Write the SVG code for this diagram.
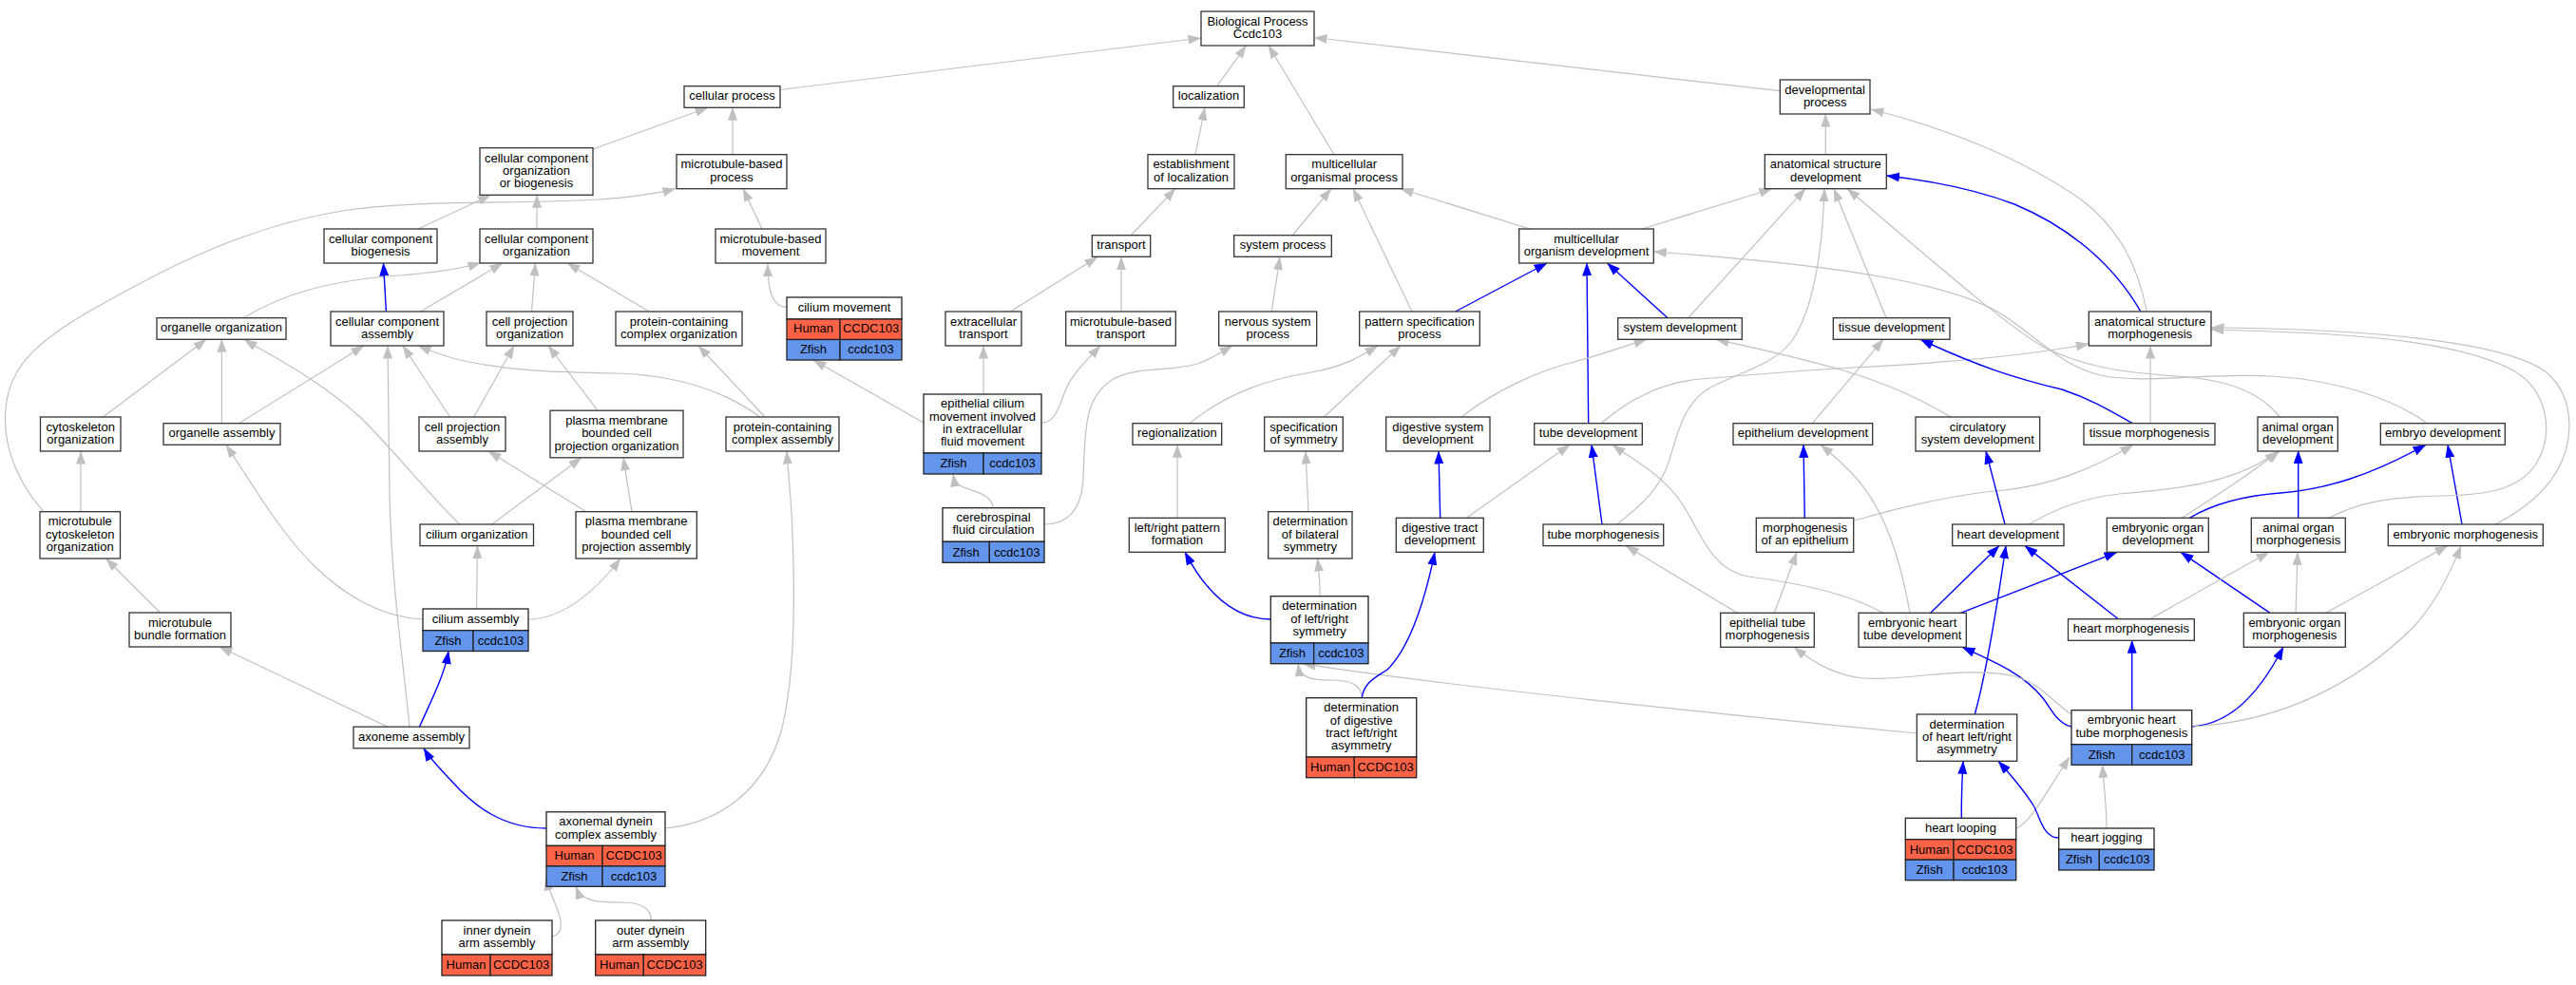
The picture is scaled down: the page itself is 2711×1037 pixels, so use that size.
<svg xmlns="http://www.w3.org/2000/svg" width="2711" height="1037" viewBox="0 0 2711 1037">
<style>
.n rect{fill:#fff;stroke:#333;stroke-width:1.3}
.t rect{stroke:#222;stroke-width:1.3}
.t .w{fill:#fff}
.t .h{fill:#ff6347}
.t .z{fill:#6495ed}
text{font-family:"Liberation Sans",Arial,Helvetica,sans-serif;font-size:13px;text-anchor:middle;fill:#000}
.e{fill:none;stroke:#c0c0c0;stroke-width:1.2;marker-end:url(#ag)}
.b{fill:none;stroke:#0000ff;stroke-width:1.4;marker-end:url(#ab)}
</style>
<defs>
<marker id="ag" viewBox="0 0 14 10" refX="13.5" refY="5" markerWidth="14" markerHeight="10" markerUnits="userSpaceOnUse" orient="auto"><path d="M0,0L14,5L0,10z" fill="#c0c0c0"/></marker>
<marker id="ab" viewBox="0 0 14 10" refX="13.5" refY="5" markerWidth="14" markerHeight="10" markerUnits="userSpaceOnUse" orient="auto"><path d="M0,0L14,5L0,10z" fill="#0000ff"/></marker>
</defs>
<rect x="0" y="0" width="2711" height="1037" fill="#fff"/>
<g id="edges">
<path class="e" d="M821,94.5 L1264,40"/>
<path class="e" d="M1280.7,90.7 L1311.5,48"/>
<path class="e" d="M1404,162.7 L1335,48"/>
<path class="e" d="M1873,95.7 L1383,39.5"/>
<path class="e" d="M622,157.7 L745,113.3"/>
<path class="e" d="M771,162.7 L771,113.3"/>
<path class="e" d="M440,241 L516.5,205.3"/>
<path class="e" d="M565,241 L565,205.3"/>
<path class="e" d="M1258,162.7 L1268,113.3"/>
<path class="e" d="M1190,248 L1237,198.7"/>
<path class="e" d="M1360,248 L1401,198.7"/>
<path class="e" d="M1486,328 L1424,198.7"/>
<path class="e" d="M1610,241 L1474,198.7"/>
<path class="e" d="M1728.3,241 L1865,198.7"/>
<path class="e" d="M1921.3,162.7 L1921.3,120"/>
<path class="e" d="M2259.3,327.7 C2250,280 2230,240 2190,210 C2130,168 2050,135 1969,115"/>
<path class="e" d="M802,241 L782,198.7"/>
<path class="e" d="M46,538.7 C20,510 2,470 6,430 C10,385 40,360 90,330 C160,290 250,240 360,222 C470,205 620,222 711,198.7"/>
<path class="e" d="M828,323.5 C812,323 808,305 808,277.5"/>
<path class="e" d="M256,334.7 C300,308 350,295 420,290 C460,287 485,283 506,276.5"/>
<path class="e" d="M442.4,328 L529,277"/>
<path class="e" d="M559.5,328 L563.5,277"/>
<path class="e" d="M683.3,328 L597,277"/>
<path class="b" d="M406.4,328 L403.5,277"/>
<path class="e" d="M1063.3,328 L1155,270.7"/>
<path class="e" d="M1180,328 L1180,270.7"/>
<path class="e" d="M1035,415 L1035,364"/>
<path class="e" d="M1096.5,445 C1112,445 1115,425 1123,407 C1130,392 1145,378 1158,364"/>
<path class="e" d="M972,445 L856,379"/>
<path class="e" d="M1338.3,328 L1347,270.7"/>
<path class="e" d="M1099,552 C1125,552 1138,535 1140,505 C1142,455 1140,420 1170,400 C1195,385 1230,392 1260,383 C1275,378 1285,371 1297,364"/>
<path class="e" d="M1045,534.7 C1044,520 1025,518 1012,512 C1006,509 1004,505 1003,499"/>
<path class="b" d="M1755,334.7 L1691.5,277"/>
<path class="e" d="M1776.7,334.7 L1900,198.7"/>
<path class="e" d="M1985,334.7 L1930,198.7"/>
<path class="b" d="M2252.7,327.7 C2225,280 2180,240 2120,215 C2075,198 2030,190 1985.5,185"/>
<path class="b" d="M1671.7,445.7 L1670,277"/>
<path class="b" d="M1531.7,328 L1628,277"/>
<path class="e" d="M1252,445.7 C1290,415 1330,400 1380,392 C1415,386 1432,375 1450,364"/>
<path class="e" d="M1393.3,439 L1474,364"/>
<path class="e" d="M108.5,439 L217,357.3"/>
<path class="e" d="M233.4,445.7 L233.4,357.3"/>
<path class="e" d="M484,552 C455,525 420,480 380,440 C330,395 285,375 257,357.3"/>
<path class="e" d="M251.5,445.7 L383,364"/>
<path class="e" d="M431,765.2 C425,700 412,620 410,520 C409,450 408,400 408,364"/>
<path class="e" d="M473.6,439 L424,364"/>
<path class="e" d="M800,439 C760,410 710,395 650,393 C580,392 530,390 480,378 C462,373 452,369 440,364"/>
<path class="e" d="M498.8,439 L541,364"/>
<path class="e" d="M628.9,432.2 L577,364"/>
<path class="e" d="M805,439 L735,364"/>
<path class="e" d="M700,872 C760,866 805,830 822,770 C838,710 837,620 833,540 C831,510 829,490 828,475"/>
<path class="e" d="M617,538.7 L514,475"/>
<path class="e" d="M665,538.7 L656,481.8"/>
<path class="e" d="M517.7,552 L612,481.8"/>
<path class="e" d="M85,538.7 L85,475"/>
<path class="e" d="M501.5,641 L502.5,574.6"/>
<path class="e" d="M445,652 C400,650 360,625 330,595 C295,560 272,520 238,468.3"/>
<path class="e" d="M556,652 C590,652 625,625 653,588"/>
<path class="e" d="M168.5,645 L111.5,588"/>
<path class="e" d="M408,765.2 L231,681"/>
<path class="b" d="M441.5,765.2 C455,735 468,710 472,685.5"/>
<path class="b" d="M575,872 C530,872 500,850 475,822 C462,808 452,798 446,787.8"/>
<path class="e" d="M581,986 C590,984 592,975 589,965 C585,950 578,940 574.5,924"/>
<path class="e" d="M685,969.3 C686,957 675,950 655,950 C630,950 612,950 606,933.3"/>
<path class="e" d="M1239,545.3 L1239,468.3"/>
<path class="e" d="M1377,538.7 L1374,475"/>
<path class="b" d="M1515.7,545.3 L1514,475"/>
<path class="e" d="M1543.3,545.3 L1652,468.3"/>
<path class="e" d="M1538,439 C1575,410 1620,390 1660,380 C1690,372 1710,364 1733,357.3"/>
<path class="b" d="M1686,552 L1675,468.3"/>
<path class="e" d="M1685,445.7 C1715,420 1750,402 1790,399 C1830,396 1860,392 1950,387 C2050,382 2130,375 2198.3,362"/>
<path class="e" d="M1701.7,552 C1730,530 1745,515 1755,490 C1765,460 1770,425 1800,408 C1830,392 1865,385 1885,360 C1910,325 1918,260 1920,198.7"/>
<path class="e" d="M1907.3,445.7 L1982,357.3"/>
<path class="b" d="M1899.3,545.3 L1898,468.3"/>
<path class="e" d="M1951.7,548 C2000,534 2060,520 2110,516 C2160,510 2200,495 2245,468.3"/>
<path class="e" d="M2053,439 C2020,420 1990,405 1940,390 C1880,373 1840,365 1806,357.3"/>
<path class="b" d="M2110,552 L2090,475"/>
<path class="e" d="M2135,552 C2165,535 2190,525 2230,520 C2300,515 2360,505 2397,474.7"/>
<path class="e" d="M2296,545.3 C2320,530 2360,505 2399,474.7"/>
<path class="b" d="M2244.3,445.7 C2220,432 2200,420 2170,410 C2120,398 2080,385 2021,357.3"/>
<path class="e" d="M2263,445.7 L2263,364"/>
<path class="e" d="M2399.3,439 C2380,415 2350,400 2290,396 C2230,392 2190,385 2150,365 C2100,335 2000,245 1944,198.7"/>
<path class="e" d="M2554,445.7 C2520,420 2460,400 2390,396 C2320,392 2260,405 2210,395 C2170,385 2150,360 2110,333 C2060,300 1950,280 1740.3,265"/>
<path class="b" d="M2304.3,545.3 C2330,530 2360,522 2400,519 C2450,515 2495,500 2553,468.3"/>
<path class="b" d="M2591,552 L2576,468.3"/>
<path class="b" d="M2418.7,545.3 L2418.7,474.7"/>
<path class="e" d="M2451,545.3 C2480,530 2510,523 2570,522 C2620,521 2650,515 2668,490 C2690,455 2680,410 2645,390 C2580,355 2450,350 2327,347"/>
<path class="e" d="M2626,552 C2650,540 2670,525 2685,505 C2710,470 2712,420 2680,392 C2630,355 2460,346 2327,345"/>
<path class="b" d="M2389,645.3 L2295,581.3"/>
<path class="e" d="M2416,645.3 L2418,581.3"/>
<path class="e" d="M2447.7,645.3 L2576,574.6"/>
<path class="b" d="M2229.3,651.7 L2131,574.6"/>
<path class="e" d="M2262.7,651.7 L2388,581.3"/>
<path class="b" d="M2031.7,645.3 L2104,574.6"/>
<path class="b" d="M2063.3,645.3 L2228,581.3"/>
<path class="e" d="M1982,645.3 C1940,622 1880,612 1840,607 C1800,600 1790,560 1770,530 C1750,500 1720,485 1697,468.3"/>
<path class="e" d="M2010,645.3 C2000,590 1985,540 1955,505 C1940,488 1928,478 1916,468.3"/>
<path class="e" d="M1867.3,645.3 L1891,581.3"/>
<path class="e" d="M1828.3,645.3 L1711,574.6"/>
<path class="b" d="M2078.3,752 C2090,710 2100,650 2111,574.6"/>
<path class="e" d="M2017.3,772 C1850,756 1500,720 1371,698.7"/>
<path class="b" d="M2064.3,861.3 C2064,840 2065,820 2066,801.3"/>
<path class="e" d="M2121.7,872 C2135,868 2150,840 2178,797"/>
<path class="b" d="M2166.7,882 C2150,882 2147,860 2140,848 C2130,832 2118,818 2103,801.3"/>
<path class="e" d="M2217,872 C2217,850 2214,825 2212.5,805.3"/>
<path class="b" d="M2243.7,747.7 L2243.7,674.3"/>
<path class="b" d="M2306.7,765 C2345,762 2375,735 2403,681.3"/>
<path class="e" d="M2306.7,765 C2400,760 2480,720 2540,660 C2565,633 2580,600 2590,574.6"/>
<path class="b" d="M2180,765 C2165,762 2158,745 2150,735 C2130,710 2100,697 2065,681.3"/>
<path class="e" d="M2180,752 C2160,740 2150,720 2120,712 C2070,700 2000,718 1960,714 C1930,711 1905,695 1888,681.3"/>
<path class="b" d="M1337.3,652 C1300,652 1270,625 1247,581.3"/>
<path class="e" d="M1389.3,627.7 C1389,612 1388,600 1386.5,588"/>
<path class="e" d="M1433.3,734.7 C1433,720 1420,716 1400,716 C1380,716 1368,714 1366,698.7"/>
<path class="b" d="M1433.3,734.7 C1435,718 1450,712 1460,705 C1485,680 1500,630 1510,581.3"/>
</g>
<g id="n_bp" class="n"><rect x="1264" y="12" width="119" height="36"/><text x="1323.5" y="26.6">Biological Process</text><text x="1323.5" y="39.9">Ccdc103</text></g>
<g id="n_cellular_process" class="n"><rect x="720" y="90.7" width="101" height="22.6"/><text x="770.5" y="105.3">cellular process</text></g>
<g id="n_localization" class="n"><rect x="1234.7" y="90.7" width="74.6" height="22.6"/><text x="1272" y="105.3">localization</text></g>
<g id="n_developmental_process" class="n"><rect x="1873.3" y="84" width="94.7" height="36"/><text x="1920.65" y="98.65">developmental</text><text x="1920.65" y="111.95">process</text></g>
<g id="n_ccoob" class="n"><rect x="505" y="155.7" width="119" height="49.6"/><text x="564.5" y="170.5">cellular component</text><text x="564.5" y="183.8">organization</text><text x="564.5" y="197.1">or biogenesis</text></g>
<g id="n_mbp" class="n"><rect x="712" y="162.7" width="116" height="36"/><text x="770" y="177.35">microtubule-based</text><text x="770" y="190.65">process</text></g>
<g id="n_eol" class="n"><rect x="1208" y="162.7" width="91" height="36"/><text x="1253.5" y="177.35">establishment</text><text x="1253.5" y="190.65">of localization</text></g>
<g id="n_mop" class="n"><rect x="1353.3" y="162.7" width="122.7" height="36"/><text x="1414.65" y="177.35">multicellular</text><text x="1414.65" y="190.65">organismal process</text></g>
<g id="n_asd" class="n"><rect x="1857.3" y="162.7" width="128" height="36"/><text x="1921.3" y="177.35">anatomical structure</text><text x="1921.3" y="190.65">development</text></g>
<g id="n_ccb" class="n"><rect x="341" y="241" width="119" height="36"/><text x="400.5" y="255.65">cellular component</text><text x="400.5" y="268.95">biogenesis</text></g>
<g id="n_cco" class="n"><rect x="505" y="241" width="119" height="36"/><text x="564.5" y="255.65">cellular component</text><text x="564.5" y="268.95">organization</text></g>
<g id="n_mbm" class="n"><rect x="753" y="241" width="116" height="36"/><text x="811" y="255.65">microtubule-based</text><text x="811" y="268.95">movement</text></g>
<g id="n_transport" class="n"><rect x="1149.3" y="247.7" width="61.4" height="22.6"/><text x="1180" y="262.3">transport</text></g>
<g id="n_sp" class="n"><rect x="1298.7" y="247.7" width="102.6" height="22.6"/><text x="1350" y="262.3">system process</text></g>
<g id="n_mod" class="n"><rect x="1598.7" y="241" width="141.6" height="36"/><text x="1669.5" y="255.65">multicellular</text><text x="1669.5" y="268.95">organism development</text></g>
<g id="n_cilium_movement" class="t"><rect class="w" x="828" y="313" width="121" height="23"/><rect class="h" x="828" y="336" width="56" height="21.5"/><rect class="h" x="884" y="336" width="65" height="21.5"/><rect class="z" x="828" y="357.5" width="56" height="21.5"/><rect class="z" x="884" y="357.5" width="65" height="21.5"/><text x="888.5" y="327.8">cilium movement</text><text x="856" y="350.2">Human</text><text x="916.5" y="350.2">CCDC103</text><text x="856" y="371.7">Zfish</text><text x="916.5" y="371.7">ccdc103</text></g>
<g id="n_oo" class="n"><rect x="165" y="334.7" width="136" height="22.6"/><text x="233" y="349.3">organelle organization</text></g>
<g id="n_cca" class="n"><rect x="348" y="328" width="119" height="36"/><text x="407.5" y="342.65">cellular component</text><text x="407.5" y="355.95">assembly</text></g>
<g id="n_cpo" class="n"><rect x="512" y="328" width="91" height="36"/><text x="557.5" y="342.65">cell projection</text><text x="557.5" y="355.95">organization</text></g>
<g id="n_pcco" class="n"><rect x="648" y="328" width="133" height="36"/><text x="714.5" y="342.65">protein-containing</text><text x="714.5" y="355.95">complex organization</text></g>
<g id="n_et" class="n"><rect x="995" y="328" width="80" height="36"/><text x="1035" y="342.65">extracellular</text><text x="1035" y="355.95">transport</text></g>
<g id="n_mbt" class="n"><rect x="1121.7" y="328" width="115.6" height="36"/><text x="1179.5" y="342.65">microtubule-based</text><text x="1179.5" y="355.95">transport</text></g>
<g id="n_nsp" class="n"><rect x="1282.7" y="328" width="103" height="36"/><text x="1334.2" y="342.65">nervous system</text><text x="1334.2" y="355.95">process</text></g>
<g id="n_pss" class="n"><rect x="1430.7" y="328" width="126.6" height="36"/><text x="1494" y="342.65">pattern specification</text><text x="1494" y="355.95">process</text></g>
<g id="n_sd" class="n"><rect x="1702.7" y="334.7" width="130.6" height="22.6"/><text x="1768" y="349.3">system development</text></g>
<g id="n_td" class="n"><rect x="1929.3" y="334.7" width="122.7" height="22.6"/><text x="1990.65" y="349.3">tissue development</text></g>
<g id="n_asm" class="n"><rect x="2198.3" y="328" width="128.7" height="36"/><text x="2262.65" y="342.65">anatomical structure</text><text x="2262.65" y="355.95">morphogenesis</text></g>
<g id="n_cyto_org" class="n"><rect x="42.5" y="439" width="84.5" height="36"/><text x="84.75" y="453.65">cytoskeleton</text><text x="84.75" y="466.95">organization</text></g>
<g id="n_oa" class="n"><rect x="172" y="445.7" width="123" height="22.6"/><text x="233.5" y="460.3">organelle assembly</text></g>
<g id="n_cpa" class="n"><rect x="441" y="439" width="91" height="36"/><text x="486.5" y="453.65">cell projection</text><text x="486.5" y="466.95">assembly</text></g>
<g id="n_pmbcpo" class="n"><rect x="579" y="432.2" width="140" height="49.6"/><text x="649" y="447">plasma membrane</text><text x="649" y="460.3">bounded cell</text><text x="649" y="473.6">projection organization</text></g>
<g id="n_pca" class="n"><rect x="764" y="439" width="119" height="36"/><text x="823.5" y="453.65">protein-containing</text><text x="823.5" y="466.95">complex assembly</text></g>
<g id="n_ecm" class="t"><rect class="w" x="972" y="415" width="124" height="62"/><rect class="z" x="972" y="477" width="63" height="22"/><rect class="z" x="1035" y="477" width="61" height="22"/><text x="1034" y="429.35">epithelial cilium</text><text x="1034" y="442.65">movement involved</text><text x="1034" y="455.95">in extracellular</text><text x="1034" y="469.25">fluid movement</text><text x="1003.5" y="492.3">Zfish</text><text x="1065.5" y="492.3">ccdc103</text></g>
<g id="n_reg" class="n"><rect x="1192" y="445.7" width="93.7" height="22.6"/><text x="1238.85" y="460.3">regionalization</text></g>
<g id="n_sos" class="n"><rect x="1330.7" y="439" width="82.6" height="36"/><text x="1372" y="453.65">specification</text><text x="1372" y="466.95">of symmetry</text></g>
<g id="n_dsd" class="n"><rect x="1458.7" y="439" width="109.3" height="36"/><text x="1513.35" y="453.65">digestive system</text><text x="1513.35" y="466.95">development</text></g>
<g id="n_tube_dev" class="n"><rect x="1614.7" y="445.7" width="113.6" height="22.6"/><text x="1671.5" y="460.3">tube development</text></g>
<g id="n_ed" class="n"><rect x="1824" y="445.7" width="146.7" height="22.6"/><text x="1897.35" y="460.3">epithelium development</text></g>
<g id="n_csd" class="n"><rect x="2016" y="439" width="130.7" height="36"/><text x="2081.35" y="453.65">circulatory</text><text x="2081.35" y="466.95">system development</text></g>
<g id="n_tm" class="n"><rect x="2193" y="445.7" width="138" height="22.6"/><text x="2262" y="460.3">tissue morphogenesis</text></g>
<g id="n_aod" class="n"><rect x="2376" y="439" width="84.3" height="36"/><text x="2418.15" y="453.65">animal organ</text><text x="2418.15" y="466.95">development</text></g>
<g id="n_emb_dev" class="n"><rect x="2505.3" y="445.7" width="131" height="22.6"/><text x="2570.8" y="460.3">embryo development</text></g>
<g id="n_mco" class="n"><rect x="42" y="538.7" width="84.5" height="49.3"/><text x="84.25" y="553.35">microtubule</text><text x="84.25" y="566.65">cytoskeleton</text><text x="84.25" y="579.95">organization</text></g>
<g id="n_cilium_org" class="n"><rect x="442" y="552" width="119.5" height="22.6"/><text x="501.75" y="566.6">cilium organization</text></g>
<g id="n_pmbcpa" class="n"><rect x="606" y="538.7" width="127.3" height="49.3"/><text x="669.65" y="553.35">plasma membrane</text><text x="669.65" y="566.65">bounded cell</text><text x="669.65" y="579.95">projection assembly</text></g>
<g id="n_csf" class="t"><rect class="w" x="992" y="534.7" width="107" height="35.6"/><rect class="z" x="992" y="570.3" width="49.3" height="22"/><rect class="z" x="1041.3" y="570.3" width="57.7" height="22"/><text x="1045.5" y="549.15">cerebrospinal</text><text x="1045.5" y="562.45">fluid circulation</text><text x="1016.65" y="585.6">Zfish</text><text x="1070.15" y="585.6">ccdc103</text></g>
<g id="n_lrpf" class="n"><rect x="1188.3" y="545.3" width="101" height="36"/><text x="1238.8" y="559.95">left/right pattern</text><text x="1238.8" y="573.25">formation</text></g>
<g id="n_dbs" class="n"><rect x="1334.7" y="538.7" width="88.3" height="49.3"/><text x="1378.85" y="553.35">determination</text><text x="1378.85" y="566.65">of bilateral</text><text x="1378.85" y="579.95">symmetry</text></g>
<g id="n_dtd" class="n"><rect x="1469.3" y="545.3" width="92" height="36"/><text x="1515.3" y="559.95">digestive tract</text><text x="1515.3" y="573.25">development</text></g>
<g id="n_tube_morph" class="n"><rect x="1624" y="552" width="126.7" height="22.6"/><text x="1687.35" y="566.6">tube morphogenesis</text></g>
<g id="n_moe" class="n"><rect x="1848.3" y="545.3" width="102.4" height="36"/><text x="1899.5" y="559.95">morphogenesis</text><text x="1899.5" y="573.25">of an epithelium</text></g>
<g id="n_hd" class="n"><rect x="2054.7" y="552" width="117.3" height="22.6"/><text x="2113.35" y="566.6">heart development</text></g>
<g id="n_eod" class="n"><rect x="2217.3" y="545.3" width="107" height="36"/><text x="2270.8" y="559.95">embryonic organ</text><text x="2270.8" y="573.25">development</text></g>
<g id="n_aom" class="n"><rect x="2369.3" y="545.3" width="99" height="36"/><text x="2418.8" y="559.95">animal organ</text><text x="2418.8" y="573.25">morphogenesis</text></g>
<g id="n_em" class="n"><rect x="2513.3" y="552" width="163" height="22.6"/><text x="2594.8" y="566.6">embryonic morphogenesis</text></g>
<g id="n_mbf" class="n"><rect x="136" y="645" width="107" height="36"/><text x="189.5" y="659.65">microtubule</text><text x="189.5" y="672.95">bundle formation</text></g>
<g id="n_cilium_assembly" class="t"><rect class="w" x="445" y="641" width="111" height="22.7"/><rect class="z" x="445" y="663.7" width="53" height="21.8"/><rect class="z" x="498" y="663.7" width="58" height="21.8"/><text x="500.5" y="655.65">cilium assembly</text><text x="471.5" y="678.6">Zfish</text><text x="527" y="678.6">ccdc103</text></g>
<g id="n_dlrs" class="t"><rect class="w" x="1337.3" y="627.7" width="102.7" height="49.3"/><rect class="z" x="1337.3" y="677" width="45.4" height="21.7"/><rect class="z" x="1382.7" y="677" width="57.3" height="21.7"/><text x="1388.65" y="642.35">determination</text><text x="1388.65" y="655.65">of left/right</text><text x="1388.65" y="668.95">symmetry</text><text x="1360" y="692.1">Zfish</text><text x="1411.35" y="692.1">ccdc103</text></g>
<g id="n_etm" class="n"><rect x="1810.7" y="645.3" width="98.6" height="36"/><text x="1860" y="659.95">epithelial tube</text><text x="1860" y="673.25">morphogenesis</text></g>
<g id="n_ehtd" class="n"><rect x="1956" y="645.3" width="113.3" height="36"/><text x="2012.65" y="659.95">embryonic heart</text><text x="2012.65" y="673.25">tube development</text></g>
<g id="n_hm" class="n"><rect x="2176.5" y="651.7" width="132.8" height="22.6"/><text x="2242.9" y="666.3">heart morphogenesis</text></g>
<g id="n_eom" class="n"><rect x="2361.3" y="645.3" width="107" height="36"/><text x="2414.8" y="659.95">embryonic organ</text><text x="2414.8" y="673.25">morphogenesis</text></g>
<g id="n_aa" class="n"><rect x="372" y="765.2" width="122" height="22.6"/><text x="433" y="779.8">axoneme assembly</text></g>
<g id="n_ddtlra" class="t"><rect class="w" x="1374.7" y="734.7" width="116" height="62.3"/><rect class="h" x="1374.7" y="797" width="50.6" height="21.7"/><rect class="h" x="1425.3" y="797" width="65.4" height="21.7"/><text x="1432.7" y="749.2">determination</text><text x="1432.7" y="762.5">of digestive</text><text x="1432.7" y="775.8">tract left/right</text><text x="1432.7" y="789.1">asymmetry</text><text x="1400" y="812.1">Human</text><text x="1458" y="812.1">CCDC103</text></g>
<g id="n_dhlra" class="n"><rect x="2017.3" y="752" width="105.4" height="49.3"/><text x="2070" y="766.65">determination</text><text x="2070" y="779.95">of heart left/right</text><text x="2070" y="793.25">asymmetry</text></g>
<g id="n_ehtm" class="t"><rect class="w" x="2180" y="747.7" width="126.7" height="36"/><rect class="z" x="2180" y="783.7" width="63.7" height="21.6"/><rect class="z" x="2243.7" y="783.7" width="63" height="21.6"/><text x="2243.35" y="762.35">embryonic heart</text><text x="2243.35" y="775.65">tube morphogenesis</text><text x="2211.85" y="798.8">Zfish</text><text x="2275.2" y="798.8">ccdc103</text></g>
<g id="n_adca" class="t"><rect class="w" x="575" y="854.8" width="125" height="35.6"/><rect class="h" x="575" y="890.4" width="59" height="21.5"/><rect class="h" x="634" y="890.4" width="66" height="21.5"/><rect class="z" x="575" y="911.9" width="59" height="21.4"/><rect class="z" x="634" y="911.9" width="66" height="21.4"/><text x="637.5" y="869.25">axonemal dynein</text><text x="637.5" y="882.55">complex assembly</text><text x="604.5" y="905.4">Human</text><text x="667" y="905.4">CCDC103</text><text x="604.5" y="926.9">Zfish</text><text x="667" y="926.9">ccdc103</text></g>
<g id="n_heart_looping" class="t"><rect class="w" x="2005.3" y="861.3" width="116.4" height="22.4"/><rect class="h" x="2005.3" y="883.7" width="50.7" height="21.5"/><rect class="h" x="2056" y="883.7" width="65.7" height="21.5"/><rect class="z" x="2005.3" y="905.2" width="50.7" height="21.5"/><rect class="z" x="2056" y="905.2" width="65.7" height="21.5"/><text x="2063.5" y="875.8">heart looping</text><text x="2030.65" y="898.7">Human</text><text x="2088.85" y="898.7">CCDC103</text><text x="2030.65" y="920.2">Zfish</text><text x="2088.85" y="920.2">ccdc103</text></g>
<g id="n_heart_jogging" class="t"><rect class="w" x="2166.7" y="872" width="100.3" height="22.3"/><rect class="z" x="2166.7" y="894.3" width="42.6" height="21.7"/><rect class="z" x="2209.3" y="894.3" width="57.7" height="21.7"/><text x="2216.85" y="886.45">heart jogging</text><text x="2188" y="909.4">Zfish</text><text x="2238.15" y="909.4">ccdc103</text></g>
<g id="n_idaa" class="t"><rect class="w" x="465" y="969" width="116" height="36"/><rect class="h" x="465" y="1005" width="51" height="22"/><rect class="h" x="516" y="1005" width="65" height="22"/><text x="523" y="983.65">inner dynein</text><text x="523" y="996.95">arm assembly</text><text x="490.5" y="1020.3">Human</text><text x="548.5" y="1020.3">CCDC103</text></g>
<g id="n_odaa" class="t"><rect class="w" x="626.7" y="969" width="116" height="36"/><rect class="h" x="626.7" y="1005" width="50.6" height="22"/><rect class="h" x="677.3" y="1005" width="65.4" height="22"/><text x="684.7" y="983.65">outer dynein</text><text x="684.7" y="996.95">arm assembly</text><text x="652" y="1020.3">Human</text><text x="710" y="1020.3">CCDC103</text></g>
</svg>
